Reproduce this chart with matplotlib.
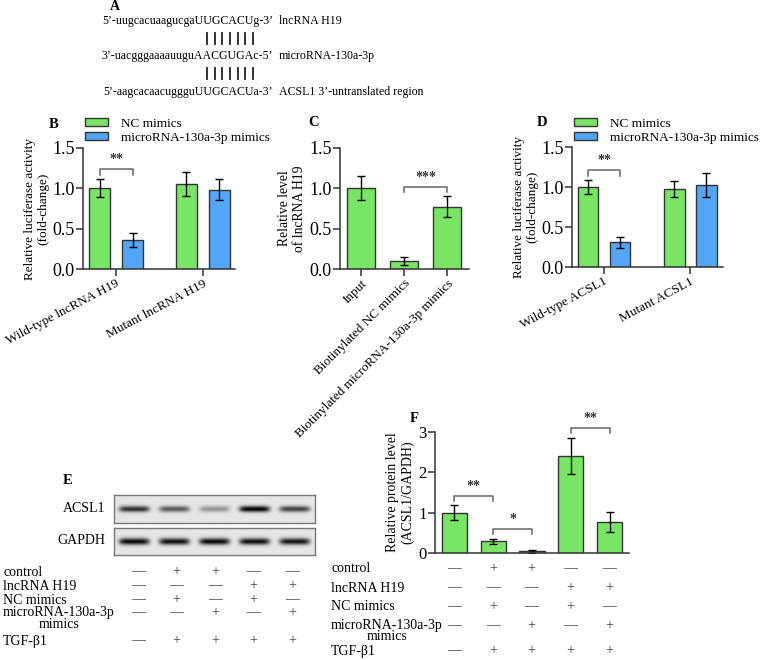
import numpy as np
import matplotlib
matplotlib.use("Agg")
from matplotlib import pyplot as plt
from matplotlib.patches import Patch
from matplotlib.lines import Line2D
from matplotlib.ticker import FormatStrFormatter

plt.rcParams["font.family"] = ["Liberation Serif", "DejaVu Serif"]
plt.rcParams["axes.linewidth"] = 1.1
plt.rcParams["axes.edgecolor"] = "#333333"
plt.rcParams["xtick.color"] = "#333333"
plt.rcParams["ytick.color"] = "#333333"
plt.rcParams["xtick.labelcolor"] = "black"
plt.rcParams["ytick.labelcolor"] = "black"

W, H = 764, 660
GREEN = "#78e664"
BLUE = "#52a5f7"
EDGE = "#333333"

# ---- data ----
seq_rows = ["5\u2019-uugcacuaagucgaUUGCACUg-3\u2019",
            "3\u2019-uacgggaaaauuguAACGUGAc-5\u2019",
            "5\u2019-aagcacaacuggguUUGCACUa-3\u2019"]
seq_names = ["lncRNA H19", "microRNA-130a-3p", "ACSL1 3\u2019-untranslated region"]
n_pairs = 7

legend_labels = ["NC mimics", "microRNA-130a-3p mimics"]

b_groups = ["Wild-type lncRNA H19", "Mutant lncRNA H19"]
b_nc = [1.00, 1.05]
b_nc_err = [0.11, 0.15]
b_mir = [0.36, 0.98]
b_mir_err = [0.09, 0.13]

c_groups = ["Input", "Biotinylated NC mimics", "Biotinylated microRNA-130a-3p mimics"]
c_vals = [1.00, 0.10, 0.77]
c_err = [0.15, 0.05, 0.13]

d_groups = ["Wild-type ACSL1", "Mutant ACSL1"]
d_nc = [1.00, 0.97]
d_nc_err = [0.09, 0.10]
d_mir = [0.31, 1.02]
d_mir_err = [0.07, 0.15]

f_vals = [1.00, 0.29, 0.04, 2.40, 0.76]
f_err = [0.18, 0.06, 0.03, 0.45, 0.25]

blot_acsl1 = [0.80, 0.62, 0.35, 1.00, 0.72]
blot_gapdh = [0.95, 0.93, 0.95, 0.93, 0.90]

cond_rows = ["control", "lncRNA H19", "NC mimics", "microRNA-130a-3p\nmimics", "TGF-\u03b21"]
cond_vals = [["-", "+", "+", "-", "-"],
             ["-", "-", "-", "+", "+"],
             ["-", "+", "-", "+", "-"],
             ["-", "-", "+", "-", "+"],
             ["-", "+", "+", "+", "+"]]

fig = plt.figure(figsize=(W / 100, H / 100), dpi=100)


def px_axes(x0, y0, x1, y1):
    return fig.add_axes([x0 / W, 1 - y1 / H, (x1 - x0) / W, (y1 - y0) / H])


def ftext(x, y, s, **kw):
    fig.text(x / W, 1 - y / H, s, **kw)


def style(ax, size=13):
    ax.spines["top"].set_visible(False)
    ax.spines["right"].set_visible(False)
    ax.tick_params(direction="out", length=5, width=1.1, labelsize=size, pad=1)


def bracket(ax, x0, x1, y, h, label):
    ax.plot([x0, x0, x1, x1], [y - h, y, y, y - h], color="#666666", lw=1.1,
            clip_on=False)
    ax.text((x0 + x1) / 2, y + h * 0.6, label, ha="center", va="bottom",
            fontsize=10, fontweight="bold", color="#333333")


def add_legend(ax, x, y):
    ax.legend([Patch(facecolor=GREEN, edgecolor=EDGE), Patch(facecolor=BLUE, edgecolor=EDGE)],
              legend_labels, loc="upper left", bbox_to_anchor=(x / W, 1 - y / H),
              bbox_transform=fig.transFigure, frameon=False, fontsize=9.5,
              handlelength=1.75, handleheight=0.55, labelspacing=0.15, borderpad=0,
              handletextpad=1.0, borderaxespad=0)


# ---- panel A ----
ftext(110, 7, "A", fontsize=10, fontweight="bold", va="center")
for i, (s, n) in enumerate(zip(seq_rows, seq_names)):
    y = 21 + i * 35.5
    ftext(273, y, s, ha="right", va="center", fontsize=8.6)
    ftext(279, y, n, ha="left", va="center", fontsize=8.6)
# base-pairing ticks between the sequence rows
for y0 in (33, 68):
    for xp in np.linspace(207, 253, n_pairs):
        fig.add_artist(Line2D([xp / W, xp / W], [1 - y0 / H, 1 - (y0 + 11) / H],
                              color="#222222", lw=1.3))

ekw = dict(capsize=3, error_kw=dict(elinewidth=1, capthick=1, ecolor="black"))

# ---- panel B ----
ax = px_axes(83, 148, 235, 269)
x = np.arange(len(b_groups))
ax.bar(x - 0.19, b_nc, 0.25, yerr=b_nc_err, color=GREEN, edgecolor=EDGE, lw=1, **ekw)
ax.bar(x + 0.19, b_mir, 0.25, yerr=b_mir_err, color=BLUE, edgecolor=EDGE, lw=1, **ekw)
ax.set_xlim(-0.38, 1.37)
ax.set_ylim(0, 1.5)
ax.set_yticks([0, 0.5, 1.0, 1.5])
ax.yaxis.set_major_formatter(FormatStrFormatter("%.1f"))
ax.set_xticks(x)
style(ax)
ax.set_xticklabels(b_groups, rotation=28, ha="right", rotation_mode="anchor", fontsize=9.5)
ax.set_ylabel("Relative luciferase activity\n(fold-change)", fontsize=9.5, labelpad=2)
bracket(ax, -0.19, 0.19, 1.24, 0.07, "**")
add_legend(ax, 85, 118)
ftext(49, 124, "B", fontsize=10.5, fontweight="bold", va="center")

# ---- panel C ----
ax = px_axes(340, 148, 469, 269)
x = np.arange(len(c_groups))
ax.bar(x, c_vals, 0.65, yerr=c_err, color=GREEN, edgecolor=EDGE, lw=1, **ekw)
ax.set_xlim(-0.49, 2.51)
ax.set_ylim(0, 1.5)
ax.set_yticks([0, 0.5, 1.0, 1.5])
ax.yaxis.set_major_formatter(FormatStrFormatter("%.1f"))
ax.set_xticks(x)
style(ax)
ax.set_xticklabels(c_groups, rotation=45, ha="right", rotation_mode="anchor", fontsize=9.5)
ax.set_ylabel("Relative level\nof lncRNA H19", fontsize=9.8, labelpad=2)
bracket(ax, 1, 2, 1.02, 0.06, "***")
ftext(308, 123, "C", fontsize=10.5, fontweight="bold", va="center")

# ---- panel D ----
ax = px_axes(572, 147, 723, 267)
x = np.arange(len(d_groups))
ax.bar(x - 0.186, d_nc, 0.24, yerr=d_nc_err, color=GREEN, edgecolor=EDGE, lw=1, **ekw)
ax.bar(x + 0.186, d_mir, 0.24, yerr=d_mir_err, color=BLUE, edgecolor=EDGE, lw=1, **ekw)
ax.set_xlim(-0.37, 1.38)
ax.set_ylim(0, 1.5)
ax.set_yticks([0, 0.5, 1.0, 1.5])
ax.yaxis.set_major_formatter(FormatStrFormatter("%.1f"))
ax.set_xticks(x)
style(ax)
ax.set_xticklabels(d_groups, rotation=28, ha="right", rotation_mode="anchor", fontsize=9.5)
ax.set_ylabel("Relative luciferase activity\n(fold-change)", fontsize=9.5, labelpad=2)
bracket(ax, -0.186, 0.186, 1.21, 0.07, "**")
add_legend(ax, 574, 118)
ftext(537, 123, "D", fontsize=10.5, fontweight="bold", va="center")


# ---- panel E (blot) ----
def blot(y0, y1, levels, thick):
    ax = px_axes(114, y0, 315, y1)
    nx, ny = 400, 60
    xx = np.linspace(0, 5, nx)
    yy = np.linspace(-1, 1, ny)[:, None]
    img = np.full((ny, nx), 0.9)
    for i, lv in enumerate(levels):
        c = i + 0.5
        prof_x = np.exp(-((xx - c) / 0.38) ** 6)
        prof_y = np.exp(-(yy / thick) ** 2)
        img -= 0.9 * lv * prof_x * prof_y
    ax.imshow(np.clip(img, 0, 1), cmap="gray", vmin=0, vmax=1, aspect="auto",
              extent=(0, 5, -1, 1))
    ax.set_xticks([])
    ax.set_yticks([])
    for sp in ax.spines.values():
        sp.set_color("#777777")
        sp.set_linewidth(1)
    return ax


blot(495, 523, blot_acsl1, 0.22)
blot(528, 555, blot_gapdh, 0.25)
ftext(105, 509, "ACSL1", ha="right", va="center", fontsize=10)
ftext(105, 541, "GAPDH", ha="right", va="center", fontsize=10)
ftext(63, 480, "E", fontsize=10.5, fontweight="bold", va="center")


def cond_table(label_x, col0, step, row_ys):
    for r, (lab, vals) in enumerate(zip(cond_rows, cond_vals)):
        y = row_ys[r]
        if "\n" in lab:
            ftext(label_x, y - 7, lab, ha="left", va="top", fontsize=10,
                  multialignment="center", linespacing=0.85)
        else:
            ftext(label_x, y, lab, ha="left", va="center", fontsize=10)
        for c, v in enumerate(vals):
            sym = "+" if v == "+" else "\u2014"
            ftext(col0 + c * step, y, sym, ha="center", va="center",
                  fontsize=10, color="#444444")


cond_table(3, 138, 38.5, [572, 586, 600, 613, 641])

# ---- panel F ----
ax = px_axes(435, 432, 629, 553)
x = np.arange(len(f_vals))
ax.bar(x, f_vals, 0.65, yerr=f_err, color=GREEN, edgecolor=EDGE, lw=1, **ekw)
ax.set_xlim(-0.5, 4.5)
ax.set_ylim(0, 3)
ax.set_yticks([0, 1, 2, 3])
ax.set_xticks([])
style(ax, 12)
ax.set_ylabel("Relative protein level\n(ACSL1/GAPDH)", fontsize=10, labelpad=3)
bracket(ax, 0, 1, 1.42, 0.13, "**")
bracket(ax, 1, 2, 0.60, 0.13, "*")
bracket(ax, 3, 4, 3.10, 0.13, "**")
ftext(410, 418, "F", fontsize=10.5, fontweight="bold", va="center")

cond_table(331, 454, 38.75, [569, 588, 607, 626, 651])

fig.savefig("out.png", dpi=100)
